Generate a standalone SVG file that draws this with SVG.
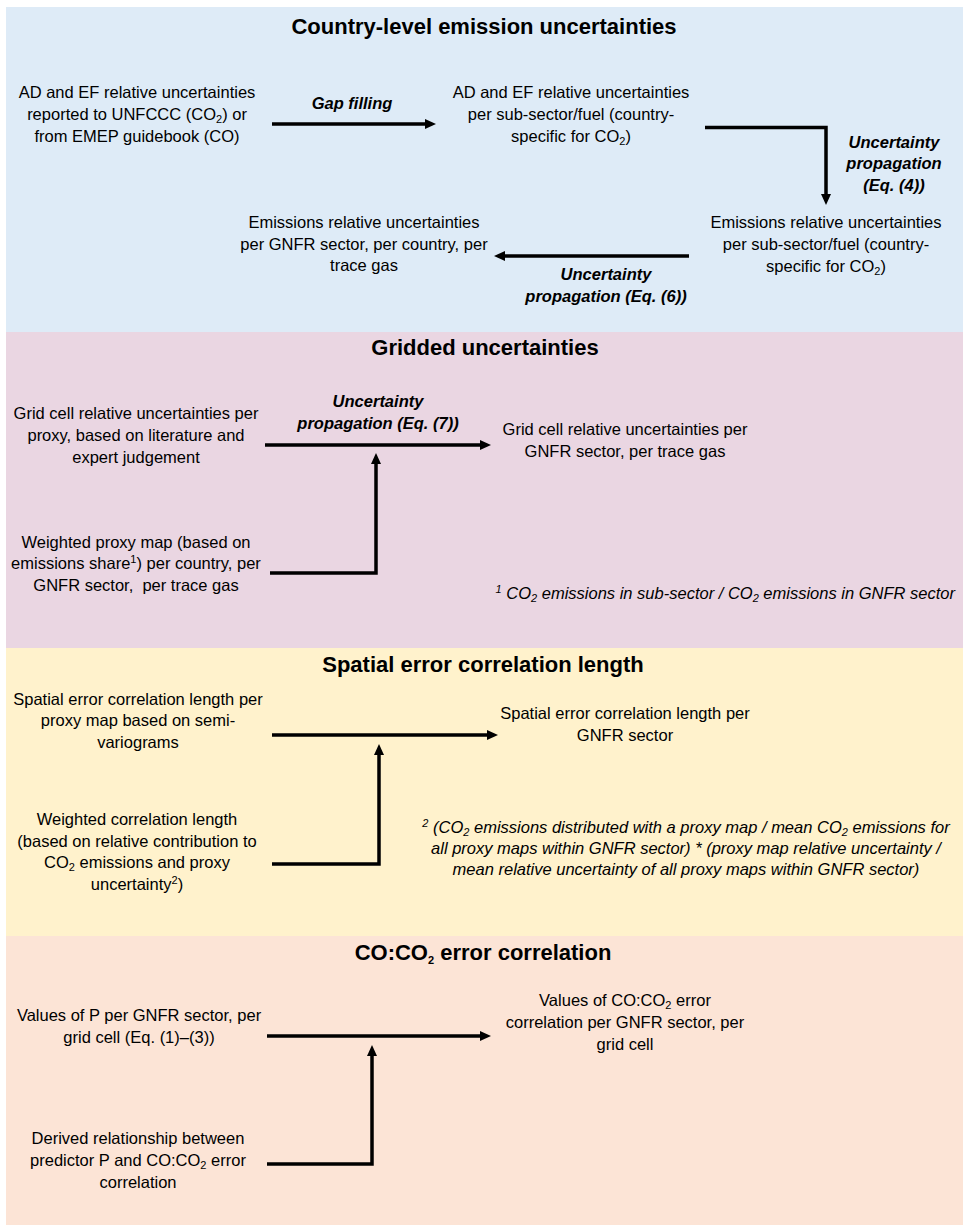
<svg xmlns="http://www.w3.org/2000/svg" width="963" height="1228" viewBox="0 0 963 1228">
<defs>
<style>
text{font-family:"Liberation Sans",Arial,sans-serif;font-size:16.5px;fill:#000;text-anchor:middle}
.h{font-weight:bold;font-size:22px}
.l{font-weight:bold;font-style:italic}
.f{font-style:italic}
.c{fill:none;stroke:#000;stroke-width:3.5}
.s{font-size:11px}
</style>
<marker id="ah" markerUnits="userSpaceOnUse" markerWidth="12" markerHeight="11" refX="3" refY="5" orient="auto" viewBox="0 0 12 10">
<path d="M0,0 L11,5 L0,10 z" fill="#000"/>
</marker>
</defs>
<rect width="963" height="1228" fill="#fff"/>
<g id="bands">
<rect x="6" y="7" width="957" height="325" fill="#deebf7"/>
<rect x="6" y="332" width="957" height="316" fill="#ead6e2"/>
<rect x="6" y="648" width="957" height="288" fill="#fff2cc"/>
<rect x="6" y="936" width="957" height="289" fill="#fce4d6"/>
</g>
<g id="titles">
<text class="h" x="484" y="34">Country-level emission uncertainties</text>
<text class="h" x="485" y="355">Gridded uncertainties</text>
<text class="h" x="483" y="672">Spatial error correlation length</text>
<text class="h" x="483" y="960">CO:CO<tspan class="s" font-size="14" dy="4">2</tspan><tspan dy="-4"> error correlation</tspan></text>
</g>
<g id="connectors">
<line class="c" x1="272" y1="124" x2="428" y2="124" marker-end="url(#ah)"/>
<path class="c" d="M705,127.5 H826 V197" marker-end="url(#ah)"/>
<line class="c" x1="689" y1="256" x2="502" y2="256" marker-end="url(#ah)"/>
<line class="c" x1="265" y1="445" x2="483" y2="445" marker-end="url(#ah)"/>
<path class="c" d="M270,573 H376 V461" marker-end="url(#ah)"/>
<line class="c" x1="272" y1="735" x2="490" y2="735" marker-end="url(#ah)"/>
<path class="c" d="M272,864 H379 V752" marker-end="url(#ah)"/>
<line class="c" x1="267" y1="1036" x2="483" y2="1036" marker-end="url(#ah)"/>
<path class="c" d="M267,1164 H372 V1053" marker-end="url(#ah)"/>
</g>
<g id="labels">
<text class="l" x="352" y="109">Gap filling</text>
<text class="l" x="894" y="148">Uncertainty</text>
<text class="l" x="894" y="169">propagation</text>
<text class="l" x="894" y="191">(Eq. (4))</text>
<text class="l" x="606" y="280">Uncertainty</text>
<text class="l" x="606" y="302">propagation (Eq. (6))</text>
<text class="l" x="378" y="407">Uncertainty</text>
<text class="l" x="378" y="429">propagation (Eq. (7))</text>
</g>
<g id="n-ad-ef-reported">
<text x="137" y="98">AD and EF relative uncertainties</text>
<text x="137" y="120">reported to UNFCCC (CO<tspan class="s" dy="3">2</tspan><tspan dy="-3">) or</tspan></text>
<text x="137" y="142">from EMEP guidebook (CO)</text>
</g>
<g id="n-ad-ef-subsector">
<text x="571" y="98">AD and EF relative uncertainties</text>
<text x="571" y="120">per sub-sector/fuel (country-</text>
<text x="571" y="142">specific for CO<tspan class="s" dy="3">2</tspan><tspan dy="-3">)</tspan></text>
</g>
<g id="n-emis-subsector">
<text x="826" y="228">Emissions relative uncertainties</text>
<text x="826" y="250">per sub-sector/fuel (country-</text>
<text x="826" y="272">specific for CO<tspan class="s" dy="3">2</tspan><tspan dy="-3">)</tspan></text>
</g>
<g id="n-emis-gnfr">
<text x="364" y="228">Emissions relative uncertainties</text>
<text x="364" y="250">per GNFR sector, per country, per</text>
<text x="364" y="271">trace gas</text>
</g>
<g id="n-grid-proxy">
<text x="136" y="419">Grid cell relative uncertainties per</text>
<text x="136" y="441">proxy, based on literature and</text>
<text x="136" y="463">expert judgement</text>
</g>
<g id="n-grid-gnfr">
<text x="625" y="435">Grid cell relative uncertainties per</text>
<text x="625" y="457">GNFR sector, per trace gas</text>
</g>
<g id="n-weighted-proxy">
<text x="136" y="548">Weighted proxy map (based on</text>
<text x="136" y="569">emissions share<tspan class="s" dy="-6">1</tspan><tspan dy="6">) per country, per</tspan></text>
<text x="136" y="591" xml:space="preserve">GNFR sector,  per trace gas</text>
</g>
<g id="note-1">
<text class="f" x="955" y="599" style="text-anchor:end"><tspan class="s" dy="-6">1</tspan><tspan dy="6"> CO</tspan><tspan class="s" dy="3">2</tspan><tspan dy="-3"> emissions in sub-sector / CO</tspan><tspan class="s" dy="3">2</tspan><tspan dy="-3"> emissions in GNFR sector</tspan></text>
</g>
<g id="n-scl-proxy">
<text x="138" y="705">Spatial error correlation length per</text>
<text x="138" y="726">proxy map based on semi-</text>
<text x="138" y="748">variograms</text>
</g>
<g id="n-scl-gnfr">
<text x="625" y="719">Spatial error correlation length per</text>
<text x="625" y="741">GNFR sector</text>
</g>
<g id="n-weighted-cl">
<text x="137" y="825">Weighted correlation length</text>
<text x="137" y="847">(based on relative contribution to</text>
<text x="137" y="868">CO<tspan class="s" dy="3">2</tspan><tspan dy="-3"> emissions and proxy</tspan></text>
<text x="137" y="890">uncertainty<tspan class="s" dy="-6">2</tspan><tspan dy="6">)</tspan></text>
</g>
<g id="note-2">
<text class="f" x="686" y="833"><tspan class="s" dy="-6">2</tspan><tspan dy="6"> (CO</tspan><tspan class="s" dy="3">2</tspan><tspan dy="-3"> emissions distributed with a proxy map / mean CO</tspan><tspan class="s" dy="3">2</tspan><tspan dy="-3"> emissions for</tspan></text>
<text class="f" x="686" y="854">all proxy maps within GNFR sector) * (proxy map relative uncertainty /</text>
<text class="f" x="686" y="875">mean relative uncertainty of all proxy maps within GNFR sector)</text>
</g>
<g id="n-values-p">
<text x="139" y="1021">Values of P per GNFR sector, per</text>
<text x="139" y="1043">grid cell (Eq. (1)–(3))</text>
</g>
<g id="n-values-coco2">
<text x="625" y="1006">Values of CO:CO<tspan class="s" dy="3">2</tspan><tspan dy="-3"> error</tspan></text>
<text x="625" y="1028">correlation per GNFR sector, per</text>
<text x="625" y="1050">grid cell</text>
</g>
<g id="n-derived">
<text x="138" y="1144">Derived relationship between</text>
<text x="138" y="1166">predictor P and CO:CO<tspan class="s" dy="3">2</tspan><tspan dy="-3"> error</tspan></text>
<text x="138" y="1188">correlation</text>
</g>
</svg>
